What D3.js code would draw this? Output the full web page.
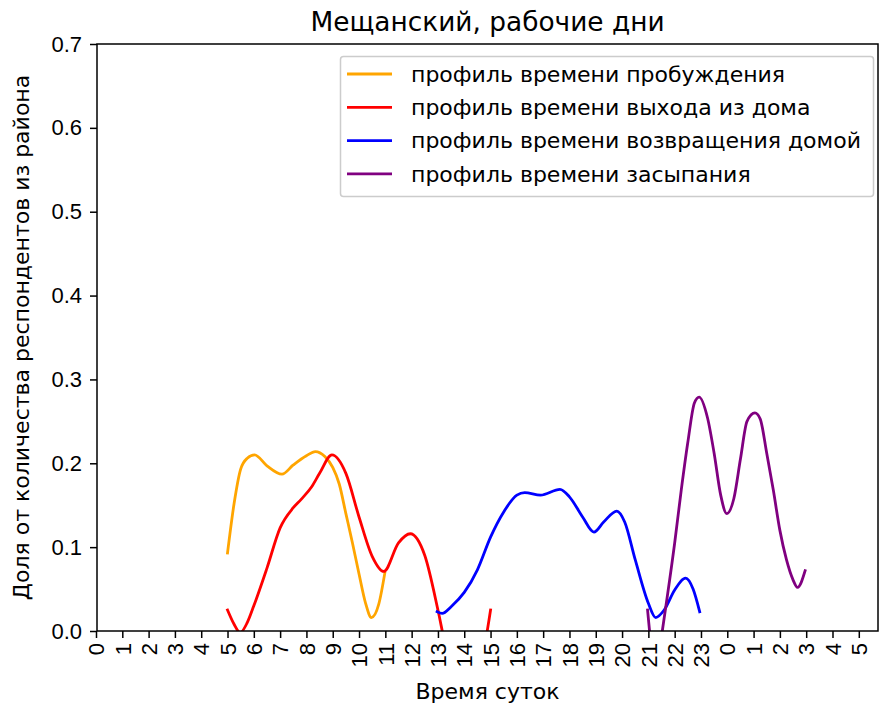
<!DOCTYPE html>
<html>
<head>
<meta charset="utf-8">
<script src="https://cdn.jsdelivr.net/npm/d3@7/dist/d3.min.js"></script>
<style>
  body { margin: 0; background: #fff; }
  svg { display: block; font-family: "DejaVu Sans", sans-serif; }
</style>
</head>
<body>
<svg id="chart" width="879" height="703"></svg>
<script>
// ---- data (hours; values after midnight continue as 24, 25, ...) ----
const tickLabels = ["0","1","2","3","4","5","6","7","8","9","10","11","12","13","14","15","16","17","18","19","20","21","22","23","0","1","2","3","4","5"];
const yTicks = [0.0, 0.1, 0.2, 0.3, 0.4, 0.5, 0.6, 0.7];
const seriesNames = ["профиль времени пробуждения", "профиль времени выхода из дома", "профиль времени возвращения домой", "профиль времени засыпания"];
const seriesColors = ["orange", "red", "blue", "purple"];

const wakeUp = [[5,0.093],[5.25,0.152],[5.5,0.193],[5.75,0.206],[6.03,0.21],[6.5,0.197],[7.07,0.187],[7.5,0.198],[8,0.209],[8.34,0.214],[8.7,0.208],[9,0.195],[9.25,0.175],[9.5,0.14],[9.75,0.105],[10,0.068],[10.25,0.033],[10.47,0.016],[10.75,0.032],[10.98,0.069]];
const leaveHome = [[5,0.025],[5.25,0.008],[5.48,-0.002],[5.75,0.01],[6,0.03],[6.5,0.075],[7,0.123],[7.5,0.147],[7.8,0.157],[8.2,0.172],[8.5,0.188],[8.97,0.21],[9.5,0.188],[10,0.136],[10.5,0.089],[10.94,0.071],[11.5,0.105],[11.95,0.116],[12.5,0.09],[13,0.025],[13.3,-0.02],[14,-0.08],[14.6,-0.045],[15,0.025]];
const returnHome = [[12.97,0.023],[13.16,0.021],[13.5,0.029],[14,0.046],[14.5,0.073],[15,0.112],[15.5,0.142],[16,0.162],[16.3,0.165],[16.9,0.162],[17.64,0.169],[18,0.16],[18.5,0.136],[18.93,0.118],[19.3,0.13],[19.8,0.143],[20.1,0.13],[20.5,0.085],[21,0.033],[21.28,0.016],[21.6,0.025],[22,0.049],[22.42,0.063],[22.7,0.05],[22.95,0.023]];
const fallAsleep = [[20.97,0.025],[21.3,-0.05],[21.53,0.0],[22,0.105],[22.25,0.168],[22.5,0.225],[22.75,0.272],[22.93,0.279],[23.25,0.254],[23.5,0.212],[23.75,0.162],[23.98,0.14],[24.25,0.158],[24.5,0.205],[24.75,0.25],[25.05,0.26],[25.25,0.253],[25.5,0.212],[25.75,0.168],[26,0.12],[26.25,0.085],[26.5,0.061],[26.67,0.052],[26.96,0.072]];

const allSeries = [wakeUp, leaveHome, returnHome, fallAsleep];

// ---- layout ----
const svg = d3.select("#chart");
const L = 97, R = 878, T = 44, B = 631;
const FS = 22;

const x = d3.scaleLinear().domain([0, 29.73]).range([96, R]);
const y = d3.scaleLinear().domain([0, 0.7]).range([B, T]);

svg.append("defs").append("clipPath").attr("id", "clip")
  .append("rect").attr("x", L).attr("y", T).attr("width", R - L).attr("height", B - T);

// lines
const line = d3.line()
  .x(d => x(d[0]))
  .y(d => y(d[1]))
  .curve(d3.curveMonotoneX);

const plot = svg.append("g").attr("clip-path", "url(#clip)");
allSeries.forEach((s, i) => {
  plot.append("path")
    .attr("d", line(s))
    .attr("fill", "none")
    .attr("stroke", seriesColors[i])
    .attr("stroke-width", 2.8)
    .attr("stroke-linejoin", "round")
    .attr("stroke-linecap", "square");
});

// axes
const xAxis = d3.axisBottom(x)
  .tickValues(d3.range(tickLabels.length))
  .tickFormat(i => tickLabels[i])
  .tickSize(7)
  .tickPadding(4);
const gx = svg.append("g").attr("transform", `translate(0,${B})`).call(xAxis);
gx.select(".domain").remove();
gx.selectAll(".tick line").attr("stroke", "#000").attr("stroke-width", 1.5);
gx.selectAll(".tick text")
  .attr("font-size", FS)
  .attr("fill", "#000")
  .attr("transform", "rotate(-90)")
  .attr("text-anchor", "end")
  .attr("x", -12)
  .attr("y", 0)
  .attr("dy", "0.35em");

const yAxis = d3.axisLeft(y)
  .tickValues(yTicks)
  .tickFormat(d3.format(".1f"))
  .tickSize(7)
  .tickPadding(8);
const gy = svg.append("g").attr("transform", `translate(${L},0)`).call(yAxis);
gy.select(".domain").remove();
gy.selectAll(".tick line").attr("stroke", "#000").attr("stroke-width", 1.5);
gy.selectAll(".tick text").attr("font-size", FS).attr("fill", "#000");

// frame
svg.append("rect")
  .attr("x", L).attr("y", T).attr("width", R - L).attr("height", B - T)
  .attr("fill", "none").attr("stroke", "#000").attr("stroke-width", 1.5);

// title & labels
svg.append("text")
  .attr("x", (L + R) / 2).attr("y", 31)
  .attr("text-anchor", "middle")
  .attr("font-size", FS * 1.2)
  .attr("fill", "#000")
  .text("Мещанский, рабочие дни");

svg.append("text")
  .attr("x", (L + R) / 2).attr("y", 699)
  .attr("text-anchor", "middle")
  .attr("font-size", FS)
  .attr("fill", "#000")
  .text("Время суток");

svg.append("text")
  .attr("transform", `translate(29,${(T + B) / 2}) rotate(-90)`)
  .attr("text-anchor", "middle")
  .attr("font-size", FS)
  .attr("fill", "#000")
  .text("Доля от количества респондентов из района");

// legend
const lg = svg.append("g");
lg.append("rect")
  .attr("x", 340.5).attr("y", 56.5).attr("width", 533).attr("height", 140)
  .attr("rx", 3).attr("ry", 3)
  .attr("fill", "#fff").attr("fill-opacity", 0.8)
  .attr("stroke", "#cccccc").attr("stroke-width", 1.5);
seriesNames.forEach((name, i) => {
  const yy = 74 + i * 33.3;
  lg.append("line")
    .attr("x1", 347).attr("x2", 392).attr("y1", yy).attr("y2", yy)
    .attr("stroke", seriesColors[i]).attr("stroke-width", 2.8);
  lg.append("text")
    .attr("x", 411).attr("y", yy).attr("dy", "0.35em")
    .attr("font-size", FS).attr("fill", "#000")
    .text(name);
});
</script>
</body>
</html>
